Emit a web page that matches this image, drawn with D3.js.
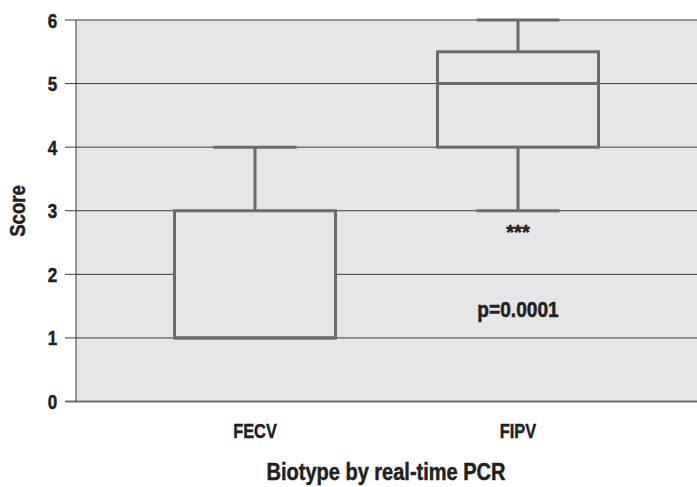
<!DOCTYPE html>
<html>
<head>
<meta charset="utf-8">
<script src="https://cdn.jsdelivr.net/npm/d3@7"></script>
<style>
  body { margin: 0; background: #fff; }
  text { font-family: "Liberation Sans", Arial, sans-serif; font-weight: bold; fill: #231f20; stroke: #231f20; stroke-width: 0.5px; }
</style>
</head>
<body>
<svg id="chart" width="697" height="487"></svg>
<script>
// categories and five-number summaries
const categories = ["FECV", "FIPV"];
const whiskerLow = [1, 3];
const q1 = [1, 4];
const median = [1, 5];
const q3 = [3, 5.5];
const whiskerHigh = [4, 6];
const yTicks = [0, 1, 2, 3, 4, 5, 6];

const svg = d3.select("#chart");
const plotL = 76, plotR = 697, plotT = 20, plotB = 401.5;

const y = d3.scaleLinear().domain([0, 6]).range([plotB, plotT]);
const x = d3.scalePoint().domain(categories).range([255, 518]);
const boxW = 161, capW = 83;

// condensed-looking bold text: squeeze Liberation Sans horizontally
function label(g, tx, ty, str, size, sx, rot) {
    return g.append("text")
        .attr("transform", `translate(${tx},${ty})${rot ? ` rotate(${rot})` : ""} scale(${sx},1)`)
        .attr("text-anchor", "middle")
        .style("font-size", size + "px")
        .text(str);
}

// plot background
svg.append("rect")
    .attr("x", plotL).attr("y", plotT)
    .attr("width", plotR - plotL).attr("height", plotB - plotT)
    .attr("fill", "#e5e6e8");

// horizontal gridlines
svg.selectAll("line.grid")
    .data(yTicks.filter(d => d > 0))
    .enter().append("line")
    .attr("class", "grid")
    .attr("x1", plotL - 11).attr("x2", plotR)
    .attr("y1", d => y(d)).attr("y2", d => y(d))
    .attr("stroke", "#3a3a3a").attr("stroke-width", 1);

// baseline
svg.append("line")
    .attr("x1", plotL - 11).attr("x2", plotR)
    .attr("y1", y(0)).attr("y2", y(0))
    .attr("stroke", "#6e6e6e").attr("stroke-width", 2);

// left axis line
svg.append("line")
    .attr("x1", plotL).attr("x2", plotL)
    .attr("y1", plotT).attr("y2", plotB)
    .attr("stroke", "#3a3a3a").attr("stroke-width", 1);

// y tick labels
yTicks.forEach(d => {
    label(svg, 52.5, y(d) + 7.5, d, 20, 0.85);
});

// boxes
const boxes = svg.selectAll("g.box")
    .data(categories.map((c, i) => ({ c, lo: whiskerLow[i], q1: q1[i], med: median[i], q3: q3[i], hi: whiskerHigh[i] })))
    .enter().append("g").attr("class", "box");

const stroke = "#6b6b6b";
boxes.append("line")
    .attr("x1", d => x(d.c)).attr("x2", d => x(d.c))
    .attr("y1", d => y(d.q3)).attr("y2", d => y(d.hi))
    .attr("stroke", stroke).attr("stroke-width", 3);
boxes.append("line")
    .attr("x1", d => x(d.c)).attr("x2", d => x(d.c))
    .attr("y1", d => y(d.q1)).attr("y2", d => y(d.lo))
    .attr("stroke", stroke).attr("stroke-width", 3);
boxes.append("line")
    .attr("x1", d => x(d.c) - capW / 2).attr("x2", d => x(d.c) + capW / 2)
    .attr("y1", d => y(d.hi)).attr("y2", d => y(d.hi))
    .attr("stroke", stroke).attr("stroke-width", 3);
boxes.filter(d => d.lo < d.q1).append("line")
    .attr("x1", d => x(d.c) - capW / 2).attr("x2", d => x(d.c) + capW / 2)
    .attr("y1", d => y(d.lo)).attr("y2", d => y(d.lo))
    .attr("stroke", stroke).attr("stroke-width", 3);
boxes.append("rect")
    .attr("x", d => x(d.c) - boxW / 2)
    .attr("y", d => y(d.q3))
    .attr("width", boxW)
    .attr("height", d => y(d.q1) - y(d.q3))
    .attr("fill", "#e5e6e8")
    .attr("stroke", stroke).attr("stroke-width", 3);
boxes.append("line")
    .attr("x1", d => x(d.c) - boxW / 2).attr("x2", d => x(d.c) + boxW / 2)
    .attr("y1", d => y(d.med)).attr("y2", d => y(d.med))
    .attr("stroke", stroke).attr("stroke-width", 3);

// annotations
label(svg, x("FIPV"), 239, "***", 20, 1.0);
label(svg, x("FIPV"), 317, "p=0.0001", 22, 0.87);

// x category labels
categories.forEach(c => label(svg, x(c), 438, c, 21, 0.78));

// axis titles
label(svg, 386, 480, "Biotype by real-time PCR", 23, 0.87);
label(svg, 25, 211, "Score", 23, 0.81, -90);
</script>
</body>
</html>
